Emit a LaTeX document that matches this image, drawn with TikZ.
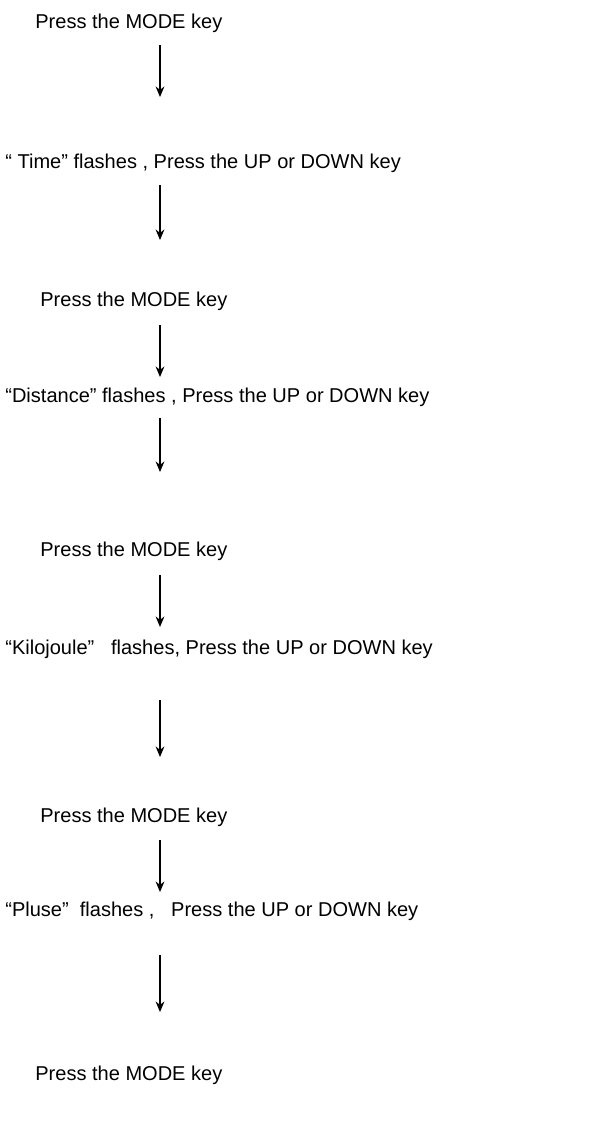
\documentclass[tikz,border=0pt]{standalone}
\usepackage{fontspec}
\setmainfont{Liberation Sans}
\usetikzlibrary{arrows.meta}
\tikzstyle{stepline} = [anchor=west, inner sep=0pt, font=\fontsize{11.4}{13}\selectfont]
\tikzstyle{flow} = [-{Stealth[length=6pt,width=5pt]}, line width=0.6pt]
\begin{document}
\begin{tikzpicture}[x=0.02cm, y=-0.02cm]

    \useasboundingbox (0,0) rectangle (609,1146);

    \node (modeOne) [stepline] at (35,23) {Press the MODE key};
    \node (timeFlash) [stepline] at (5,163) {“ Time” flashes , Press the UP or DOWN key};
    \node (modeTwo) [stepline] at (40,301) {Press the MODE key};
    \node (distFlash) [stepline] at (5,397) {“Distance” flashes , Press the UP or DOWN key};
    \node (modeThree) [stepline] at (40,551) {Press the MODE key};
    \node (kiloFlash) [stepline] at (5,649) {“Kilojoule”\ \ \ flashes, Press the UP or DOWN key};
    \node (modeFour) [stepline] at (40,817) {Press the MODE key};
    \node (pluseFlash) [stepline] at (5,911) {“Pluse”\ \ flashes ,\ \ \ Press the UP or DOWN key};
    \node (modeFive) [stepline] at (35,1075) {Press the MODE key};

    \coordinate (aTop) at (160,45);    \coordinate (aBot) at (160,97);
    \coordinate (bTop) at (160,185);   \coordinate (bBot) at (160,240);
    \coordinate (cTop) at (160,325);   \coordinate (cBot) at (160,377);
    \coordinate (dTop) at (160,418);   \coordinate (dBot) at (160,472);
    \coordinate (eTop) at (160,575);   \coordinate (eBot) at (160,627);
    \coordinate (fTop) at (160,700);   \coordinate (fBot) at (160,757);
    \coordinate (gTop) at (160,840);   \coordinate (gBot) at (160,892);
    \coordinate (hTop) at (160,955);   \coordinate (hBot) at (160,1012);

    \draw[flow] (aTop) -- (aBot);
    \draw[flow] (bTop) -- (bBot);
    \draw[flow] (cTop) -- (cBot);
    \draw[flow] (dTop) -- (dBot);
    \draw[flow] (eTop) -- (eBot);
    \draw[flow] (fTop) -- (fBot);
    \draw[flow] (gTop) -- (gBot);
    \draw[flow] (hTop) -- (hBot);

\end{tikzpicture}
\end{document}
